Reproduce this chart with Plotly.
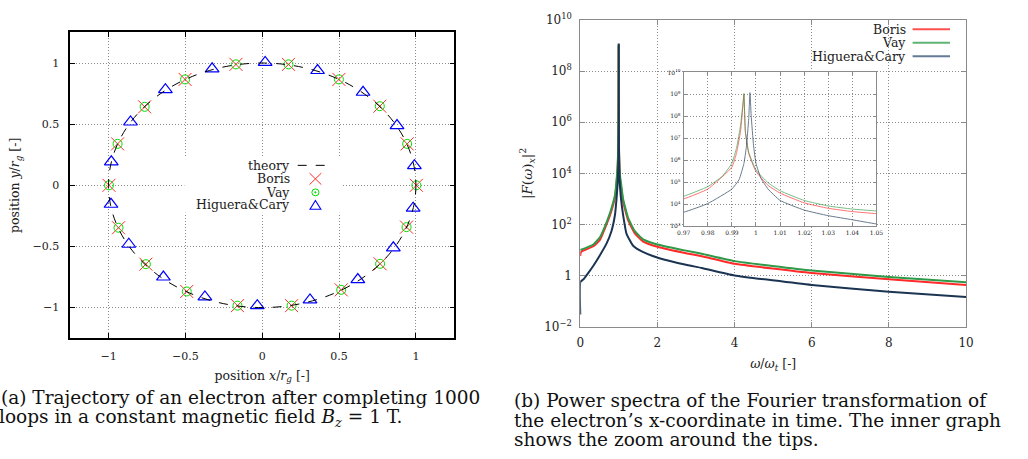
import plotly.graph_objects as go

# ---------------- (a) electron trajectory, positions in units of r_g ----------------
theory_radius = 1.0

boris_x = [-0.171, 0.171, -0.502, 0.499, -0.765, 0.765, -0.941, 0.943, -0.997, 1.003,
           -0.935, 0.939, -0.757, 0.767, -0.491, 0.514, -0.161, 0.191]
boris_y = [0.989, 0.989, 0.866, 0.866, 0.642, 0.647, 0.339, 0.339, 0.0, 0.0,
           -0.347, -0.342, -0.645, -0.642, -0.868, -0.855, -0.984, -0.984]

vay_x = [-0.171, 0.171, -0.502, 0.499, -0.765, 0.765, -0.941, 0.943, -0.997, 1.003,
         -0.935, 0.939, -0.757, 0.767, -0.491, 0.514, -0.161, 0.191]
vay_y = [0.989, 0.989, 0.866, 0.866, 0.642, 0.647, 0.339, 0.339, 0.0, 0.0,
         -0.347, -0.342, -0.645, -0.642, -0.868, -0.855, -0.984, -0.984]

hc_x = [0.019, 0.360, -0.326, 0.656, -0.630, 0.877, -0.857, 0.990, -0.982,
        -0.984, 0.982, -0.868, 0.853, -0.643, 0.622, -0.373, 0.311, -0.032]
hc_y = [1.005, 0.939, 0.953, 0.761, 0.782, 0.489, 0.518, 0.161, 0.192,
        -0.155, -0.187, -0.482, -0.511, -0.750, -0.771, -0.913, -0.937, -0.984]

pos_ticks = [-1, -0.5, 0, 0.5, 1]
pos_ticktext = ["\u22121", "\u22120.5", "0", "0.5", "1"]

# ---------------- (b) power spectra |F(w)_x|^2 over w/w_t ----------------
vay_w = [0.0, 0.34, 0.51, 0.64, 0.77, 0.85, 0.90, 0.95, 0.97, 0.98, 0.986, 0.99, 0.992,
         0.9936, 0.9947, 0.995, 0.9956, 0.997, 1.0, 1.005, 1.01, 1.02, 1.03, 1.04, 1.05,
         1.11, 1.24, 1.41, 1.62, 2.0, 2.77, 3.15, 4.0, 6.0, 8.0, 10.0]
vay_p = [10, 16.6, 31.6, 85, 282, 708, 1.41e3, 7.9e3, 2.3e4, 6.3e4, 1.86e5, 7.2e5, 3.9e6,
         4.0e7, 5.0e8, 1.12e9, 2.0e7, 2.3e6, 3.6e5, 9.5e4, 4.1e4, 1.48e4, 8.3e3, 6.0e3, 4.9e3,
         1.0e3, 182, 56, 27, 16.6, 9.3, 7.2, 3.7, 1.58, 0.89, 0.55]

boris_w = [0.0, 0.02, 0.34, 0.51, 0.64, 0.77, 0.85, 0.90, 0.95, 0.97, 0.98, 0.99, 0.992,
           0.9936, 0.9947, 0.995, 0.9956, 0.997, 1.0, 1.005, 1.01, 1.02, 1.03, 1.04, 1.05,
           1.11, 1.24, 1.41, 1.62, 2.0, 2.77, 3.15, 4.0, 6.0, 8.0, 10.0]
boris_p = [5.9, 8.5, 14.1, 25, 71, 224, 562, 1.12e3, 6.3e3, 1.74e4, 4.9e4, 4.8e5, 2.3e6,
           2.1e7, 4.0e8, 1.0e9, 2.0e7, 2.0e6, 3.1e5, 7.2e4, 3.2e4, 1.15e4, 6.5e3, 4.6e3, 3.7e3,
           794, 148, 46, 22, 13.5, 7.4, 5.75, 2.9, 1.26, 0.72, 0.43]

hc_w = [0.0, 0.003, 0.085, 0.21, 0.34, 0.51, 0.68, 0.81, 0.90, 0.94, 0.97, 0.98, 0.99,
        0.993, 0.995, 0.996, 0.997, 0.9975, 0.998, 0.999, 1.0, 1.002, 1.005, 1.01, 1.02,
        1.03, 1.04, 1.05, 1.11, 1.2, 1.37, 1.62, 2.05, 2.77, 3.15, 4.0, 6.0, 8.0, 10.0]
hc_p = [0.03, 0.575, 0.72, 1.29, 2.45, 6.3, 17.8, 56, 240, 1.0e3, 4.3e3, 1.07e4, 4.9e4,
        1.32e5, 7.2e5, 3.9e6, 7.9e7, 1.2e9, 1.12e8, 4.6e6, 7.2e5, 1.58e5, 4.9e4, 1.48e4, 5.4e3,
        3.0e3, 1.95e3, 1.26e3, 240, 43, 14.8, 8.5, 4.8, 2.6, 2.0, 1.02, 0.43, 0.234, 0.148]

spec_xticks = [0, 2, 4, 6, 8, 10]
spec_yticks = [1e-2, 1, 1e2, 1e4, 1e6, 1e8, 1e10]
spec_yticktext = ["10<sup>\u22122</sup>", "1", "10<sup>2</sup>", "10<sup>4</sup>",
                  "10<sup>6</sup>", "10<sup>8</sup>", "10<sup>10</sup>"]

zoom_xticks = [0.97, 0.98, 0.99, 1.0, 1.01, 1.02, 1.03, 1.04, 1.05]
zoom_xticktext = ["0.97", "0.98", "0.99", "1", "1.01", "1.02", "1.03", "1.04", "1.05"]
zoom_yticks = [1e3, 1e4, 1e5, 1e6, 1e7, 1e8, 1e9, 1e10]
zoom_yticktext = ["10<sup>%d</sup>" % e for e in range(3, 11)]

RED = "#ff2a2a"
GREEN = "#2e9a48"
NAVY = "#1b3452"
KEY_RED = "#ff5050"
KEY_GREEN = "#5fb574"
KEY_NAVY = "#647a96"
SERIF = "DejaVu Serif"
W, H = 1028, 459


def px(x):
    """Horizontal page pixel -> paper fraction."""
    return x / W


def py(y):
    """Vertical page pixel (from top) -> paper fraction."""
    return 1 - y / H


fig = go.Figure()

# ---- left panel: trajectory ----
fig.add_shape(type="circle", xref="x", yref="y",
              x0=-theory_radius, y0=-theory_radius, x1=theory_radius, y1=theory_radius,
              line=dict(color="black", width=1, dash="dash"), layer="above")
fig.add_trace(go.Scatter(x=boris_x, y=boris_y, mode="markers", name="Boris",
                         marker=dict(symbol="x-thin-open", size=13, color=RED,
                                     line=dict(color=RED, width=1)),
                         xaxis="x", yaxis="y"))
fig.add_trace(go.Scatter(x=vay_x, y=vay_y, mode="markers", name="Vay",
                         marker=dict(symbol="circle-open-dot", size=9, color="#00dd00",
                                     line=dict(color="#00dd00", width=1)),
                         xaxis="x", yaxis="y"))
fig.add_trace(go.Scatter(x=hc_x, y=hc_y, mode="markers", name="Higuera&Cary",
                         marker=dict(symbol="triangle-up-open", size=12, color="#0000ff",
                                     line=dict(color="#0000ff", width=1.2)),
                         xaxis="x", yaxis="y"))

# ---- right panel: spectra, full range and zoomed inset ----
series = [("Boris", boris_w, boris_p, RED, KEY_RED),
          ("Vay", vay_w, vay_p, GREEN, KEY_GREEN),
          ("Higuera&Cary", hc_w, hc_p, NAVY, KEY_NAVY)]
for name, w, p, col, _ in series:
    fig.add_trace(go.Scatter(x=w, y=p, mode="lines", name=name,
                             line=dict(color=col, width=2, shape="spline", smoothing=0.4),
                             xaxis="x2", yaxis="y2"))
for name, w, p, col, _ in series:
    fig.add_trace(go.Scatter(x=w, y=p, mode="lines", name=name, opacity=0.65,
                             line=dict(color=col, width=1, shape="spline", smoothing=0.4),
                             xaxis="x3", yaxis="y3"))

# ---- key of the trajectory panel: label text on the left, sample on the right ----
key_font = dict(family=SERIF, size=12.5, color="#222")
key_box = dict(borderpad=0, borderwidth=0)
fig.add_shape(type="rect", xref="paper", yref="paper", x0=px(180), x1=px(340),
              y0=py(211), y1=py(153), fillcolor="white", line=dict(width=0), layer="above")
left_keys = ["theory", "Boris", "Vay", "Higuera&Cary"]
left_rows = [162, 176, 190, 203]
for label, row in zip(left_keys, left_rows):
    fig.add_annotation(text=label, x=px(287), y=py(row), xref="paper", yref="paper",
                       xanchor="right", yanchor="middle", showarrow=False, font=key_font,
                       **key_box)
# theory: dashed segment
fig.add_shape(type="line", xref="paper", yref="paper", x0=px(295), x1=px(331),
              y0=py(162), y1=py(162), line=dict(color="black", width=1, dash="dash"),
              layer="above")
# Boris: cross
cx, cy, s = 313, 176, 6
for a, b in [(-1, -1), (-1, 1)]:
    fig.add_shape(type="line", xref="paper", yref="paper", x0=px(cx + a * s),
                  x1=px(cx - a * s), y0=py(cy + b * s), y1=py(cy - b * s),
                  line=dict(color=RED, width=1), layer="above")
# Vay: circle with dot
cx, cy, r = 313, 190, 3.6
fig.add_shape(type="circle", xref="paper", yref="paper", x0=px(cx - r), x1=px(cx + r),
              y0=py(cy + r), y1=py(cy - r), line=dict(color="#00dd00", width=1),
              layer="above")
fig.add_shape(type="circle", xref="paper", yref="paper", x0=px(cx - 0.8), x1=px(cx + 0.8),
              y0=py(cy + 0.8), y1=py(cy - 0.8), fillcolor="#00dd00",
              line=dict(color="#00dd00", width=0.5), layer="above")
# Higuera&Cary: open triangle
cx, cy = 313, 204
tri = "M %.5f,%.5f L %.5f,%.5f L %.5f,%.5f Z" % (
    px(cx - 5.5), py(cy + 3.5), px(cx + 5.5), py(cy + 3.5), px(cx), py(cy - 5.5))
fig.add_shape(type="path", xref="paper", yref="paper", path=tri,
              line=dict(color="#0000ff", width=1.1), layer="above")

# ---- key of the spectrum panel ----
for (name, _, _, _, kcol), row in zip(series, [21, 35, 49]):
    fig.add_annotation(text=name, x=px(912), y=py(row), xref="paper", yref="paper",
                       xanchor="right", yanchor="middle", showarrow=False, font=key_font,
                       **key_box)
    fig.add_shape(type="line", xref="paper", yref="paper", x0=px(919), x1=px(957),
                  y0=py(row), y1=py(row), line=dict(color=kcol, width=2), layer="above")

grid = dict(showgrid=True, gridcolor="#8c8c8c", griddash="1px,2px", gridwidth=1,
            zeroline=False, ticks="inside", mirror="ticks", showline=True)
title_font = dict(family=SERIF, size=12.5, color="#222")

fig.update_layout(
    width=W, height=H,
    margin=dict(l=0, r=0, t=0, b=0),
    paper_bgcolor="white", plot_bgcolor="white",
    showlegend=False,
    font=dict(family=SERIF, size=11, color="#222"),
    xaxis=dict(domain=[0.0623, 0.4416], range=[-1.25, 1.25], anchor="y",
               tickvals=pos_ticks, ticktext=pos_ticktext, linecolor="black", linewidth=1.5,
               tickcolor="black", ticklen=5, ticklabelstandoff=7, tickfont=dict(size=11),
               title=dict(text="position <i>x</i>/<i>r<sub>g</sub></i> [-]",
                          font=title_font, standoff=9), **grid),
    yaxis=dict(domain=[0.257, 0.947], range=[-1.25, 1.25], anchor="x",
               tickvals=pos_ticks, ticktext=pos_ticktext, linecolor="black", linewidth=1.5,
               tickcolor="black", ticklen=5, ticklabelstandoff=7, tickfont=dict(size=11),
               title=dict(text="position <i>y</i>/<i>r<sub>g</sub></i> [-]",
                          font=title_font, standoff=10), **grid),
    xaxis2=dict(domain=[0.5659, 0.9468], range=[0, 10], anchor="y2",
                tickvals=spec_xticks, linecolor="#8a8a8a", linewidth=1,
                tickcolor="#8a8a8a", ticklen=5, ticklabelstandoff=5, tickfont=dict(size=12),
                title=dict(text="<i>\u03c9</i>/<i>\u03c9<sub>t</sub></i> [-]",
                           font=title_font, standoff=10), **grid),
    yaxis2=dict(domain=[0.2826, 0.9754], type="log", range=[-2, 10], anchor="x2",
                tickvals=spec_yticks, ticktext=spec_yticktext, linecolor="#8a8a8a",
                linewidth=1, tickcolor="#8a8a8a", ticklen=5, ticklabelstandoff=5,
                tickfont=dict(size=12),
                title=dict(text="|<i>F</i>(<i>\u03c9</i>)<sub><i>x</i></sub>|<sup>2</sup>",
                           font=dict(family=SERIF, size=13.5, color="#222"), standoff=8),
                **grid),
    xaxis3=dict(domain=[0.668, 0.8583], range=[0.97, 1.05], anchor="y3",
                tickvals=zoom_xticks, ticktext=zoom_xticktext, linecolor="#8a8a8a",
                linewidth=1, tickcolor="#8a8a8a", ticklen=3, ticklabelstandoff=1,
                tickfont=dict(size=6), **grid),
    yaxis3=dict(domain=[0.5098, 0.8569], type="log", range=[3, 10], anchor="x3",
                tickvals=zoom_yticks, ticktext=zoom_yticktext, linecolor="#8a8a8a",
                linewidth=1, tickcolor="#8a8a8a", ticklen=3, ticklabelstandoff=1,
                tickfont=dict(size=6), **grid),
)

# ---- sub-figure captions ----
cap_font = dict(family=SERIF, size=18.5, color="#111")
captions = [
    ("(a) Trajectory of an electron after completing 1000", -0.006, py(403)),
    ("loops in a constant magnetic field <i>B<sub>z</sub></i> = 1 T.", -0.008, py(424)),
    ("(b) Power spectra of the Fourier transformation of", 0.5, py(406)),
    ("the electron\u2019s x-coordinate in time. The inner graph", 0.5, py(426)),
    ("shows the zoom around the tips.", 0.5, py(446)),
]
for text, x, y in captions:
    fig.add_annotation(text=text, x=x, y=y, xref="paper", yref="paper",
                       xanchor="left", yanchor="middle", showarrow=False, font=cap_font,
                       borderpad=0, borderwidth=0)

fig.write_html("out.html")
